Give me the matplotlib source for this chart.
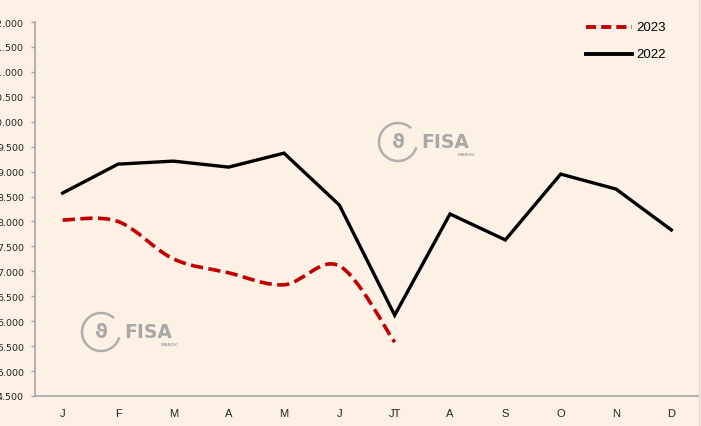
import numpy as np
import matplotlib
matplotlib.use("Agg")
import matplotlib.pyplot as plt
from matplotlib.path import Path
from matplotlib.patches import PathPatch, Arc

# Data
months = ["J", "F", "M", "A", "M", "J", "JT", "A", "S", "O", "N", "D"]
values_2022 = [8.57, 9.15, 9.21, 9.09, 9.37, 8.33, 6.12, 8.15, 7.63, 8.95, 8.65, 7.83]
values_2023 = [8.03, 8.00, 7.25, 6.97, 6.73, 7.11, 5.58]
y_ticks = [4.5, 5.0, 5.5, 6.0, 6.5, 7.0, 7.5, 8.0, 8.5, 9.0, 9.5, 10.0, 10.5, 11.0, 11.5, 12.0]

bg = "#FDF0E5"
red = "#C00000"
dash = (0, (3.4, 1.5))


def smooth_path(xs, ys):
    # Excel-style smoothed line: cubic bezier segments
    pts = np.column_stack([xs, ys])
    n = len(pts)
    verts = [pts[0]]
    codes = [Path.MOVETO]
    for i in range(n - 1):
        p0 = pts[i - 1] if i > 0 else pts[i]
        p1 = pts[i]
        p2 = pts[i + 1]
        p3 = pts[i + 2] if i + 2 < n else pts[i + 1]
        c1 = p1 + (p2 - p0) / 6.0
        c2 = p2 - (p3 - p1) / 6.0
        verts += [c1, c2, p2]
        codes += [Path.CURVE4] * 3
    return Path(verts, codes)


fig = plt.figure(figsize=(7.01, 4.27), dpi=100, facecolor=bg)
ax = fig.add_axes([35 / 701, 30 / 427, 664 / 701, 374 / 427])
ax.set_facecolor(bg)

x = np.arange(len(months))
ax.plot(x, values_2022, color="black", lw=2.4, solid_joinstyle="miter", label="2022", zorder=3)

x23 = np.arange(len(values_2023))
patch = PathPatch(smooth_path(x23, values_2023), fill=False, edgecolor=red, lw=2.6,
                  linestyle=dash, capstyle="butt", zorder=3)
ax.add_patch(patch)

ax.set_xlim(-0.5, len(months) - 0.5)
ax.set_ylim(4.5, 12.0)
ax.set_yticks(y_ticks)
ax.set_yticklabels([f"{v:.3f}" for v in y_ticks], fontsize=6.8, color="#222222",
                   family="DejaVu Sans")
ax.set_xticks(x)
ax.set_xticklabels(months, fontsize=8, family="Liberation Sans", color="#222222")
ax.tick_params(axis="y", length=3, color="#A6A6A6", width=1, pad=5)
ax.tick_params(axis="x", length=0, pad=9)
for s in ["top", "right"]:
    ax.spines[s].set_visible(False)
for s in ["left", "bottom"]:
    ax.spines[s].set_color("#A6A6A6")
    ax.spines[s].set_linewidth(1.2)

# chart border on the right
fig.add_artist(plt.Line2D([698.5 / 701, 698.5 / 701], [0, 1], transform=fig.transFigure,
                          color="#D9D9D9", lw=1))

# legend
lx0, lx1 = 586 / 701, 632 / 701
fig.add_artist(plt.Line2D([lx0, lx1], [1 - 28 / 427] * 2, transform=fig.transFigure,
                          color=red, lw=2.8, linestyle=(0, (2.6, 1.3))))
fig.add_artist(plt.Line2D([lx0, lx1], [1 - 55 / 427] * 2, transform=fig.transFigure,
                          color="black", lw=2.8))
fig.text(636 / 701, 1 - 28 / 427, "2023", fontsize=9.5, family="Liberation Sans", va="center")
fig.text(636 / 701, 1 - 55 / 427, "2022", fontsize=9.5, family="Liberation Sans", va="center")


# watermarks
def watermark(px, py):
    gray = "#A8A8A8"
    fx, fy = px / 701, 1 - py / 427
    arc = Arc((fx + 18 / 701, fy), 38 / 701, 38 / 427, theta1=60, theta2=335,
              transform=fig.transFigure, color=gray, lw=1.8, alpha=0.9)
    fig.add_artist(arc)
    fig.text(fx + 12 / 701, fy, "ϑ", fontsize=14, color=gray, ha="left", va="center",
             family="DejaVu Sans", fontweight="bold")
    fig.text(fx + 41 / 701, fy, "FISA", fontsize=13.5, color=gray, fontweight="bold",
             family="DejaVu Sans", ha="left", va="center")
    fig.text(fx + 78 / 701, fy - 12 / 427, "MAROC", fontsize=3.2, color=gray,
             family="DejaVu Sans", fontweight="bold", ha="left", va="center")


watermark(380, 143)
watermark(83, 333)

fig.savefig("out.png", dpi=100, facecolor=bg)
